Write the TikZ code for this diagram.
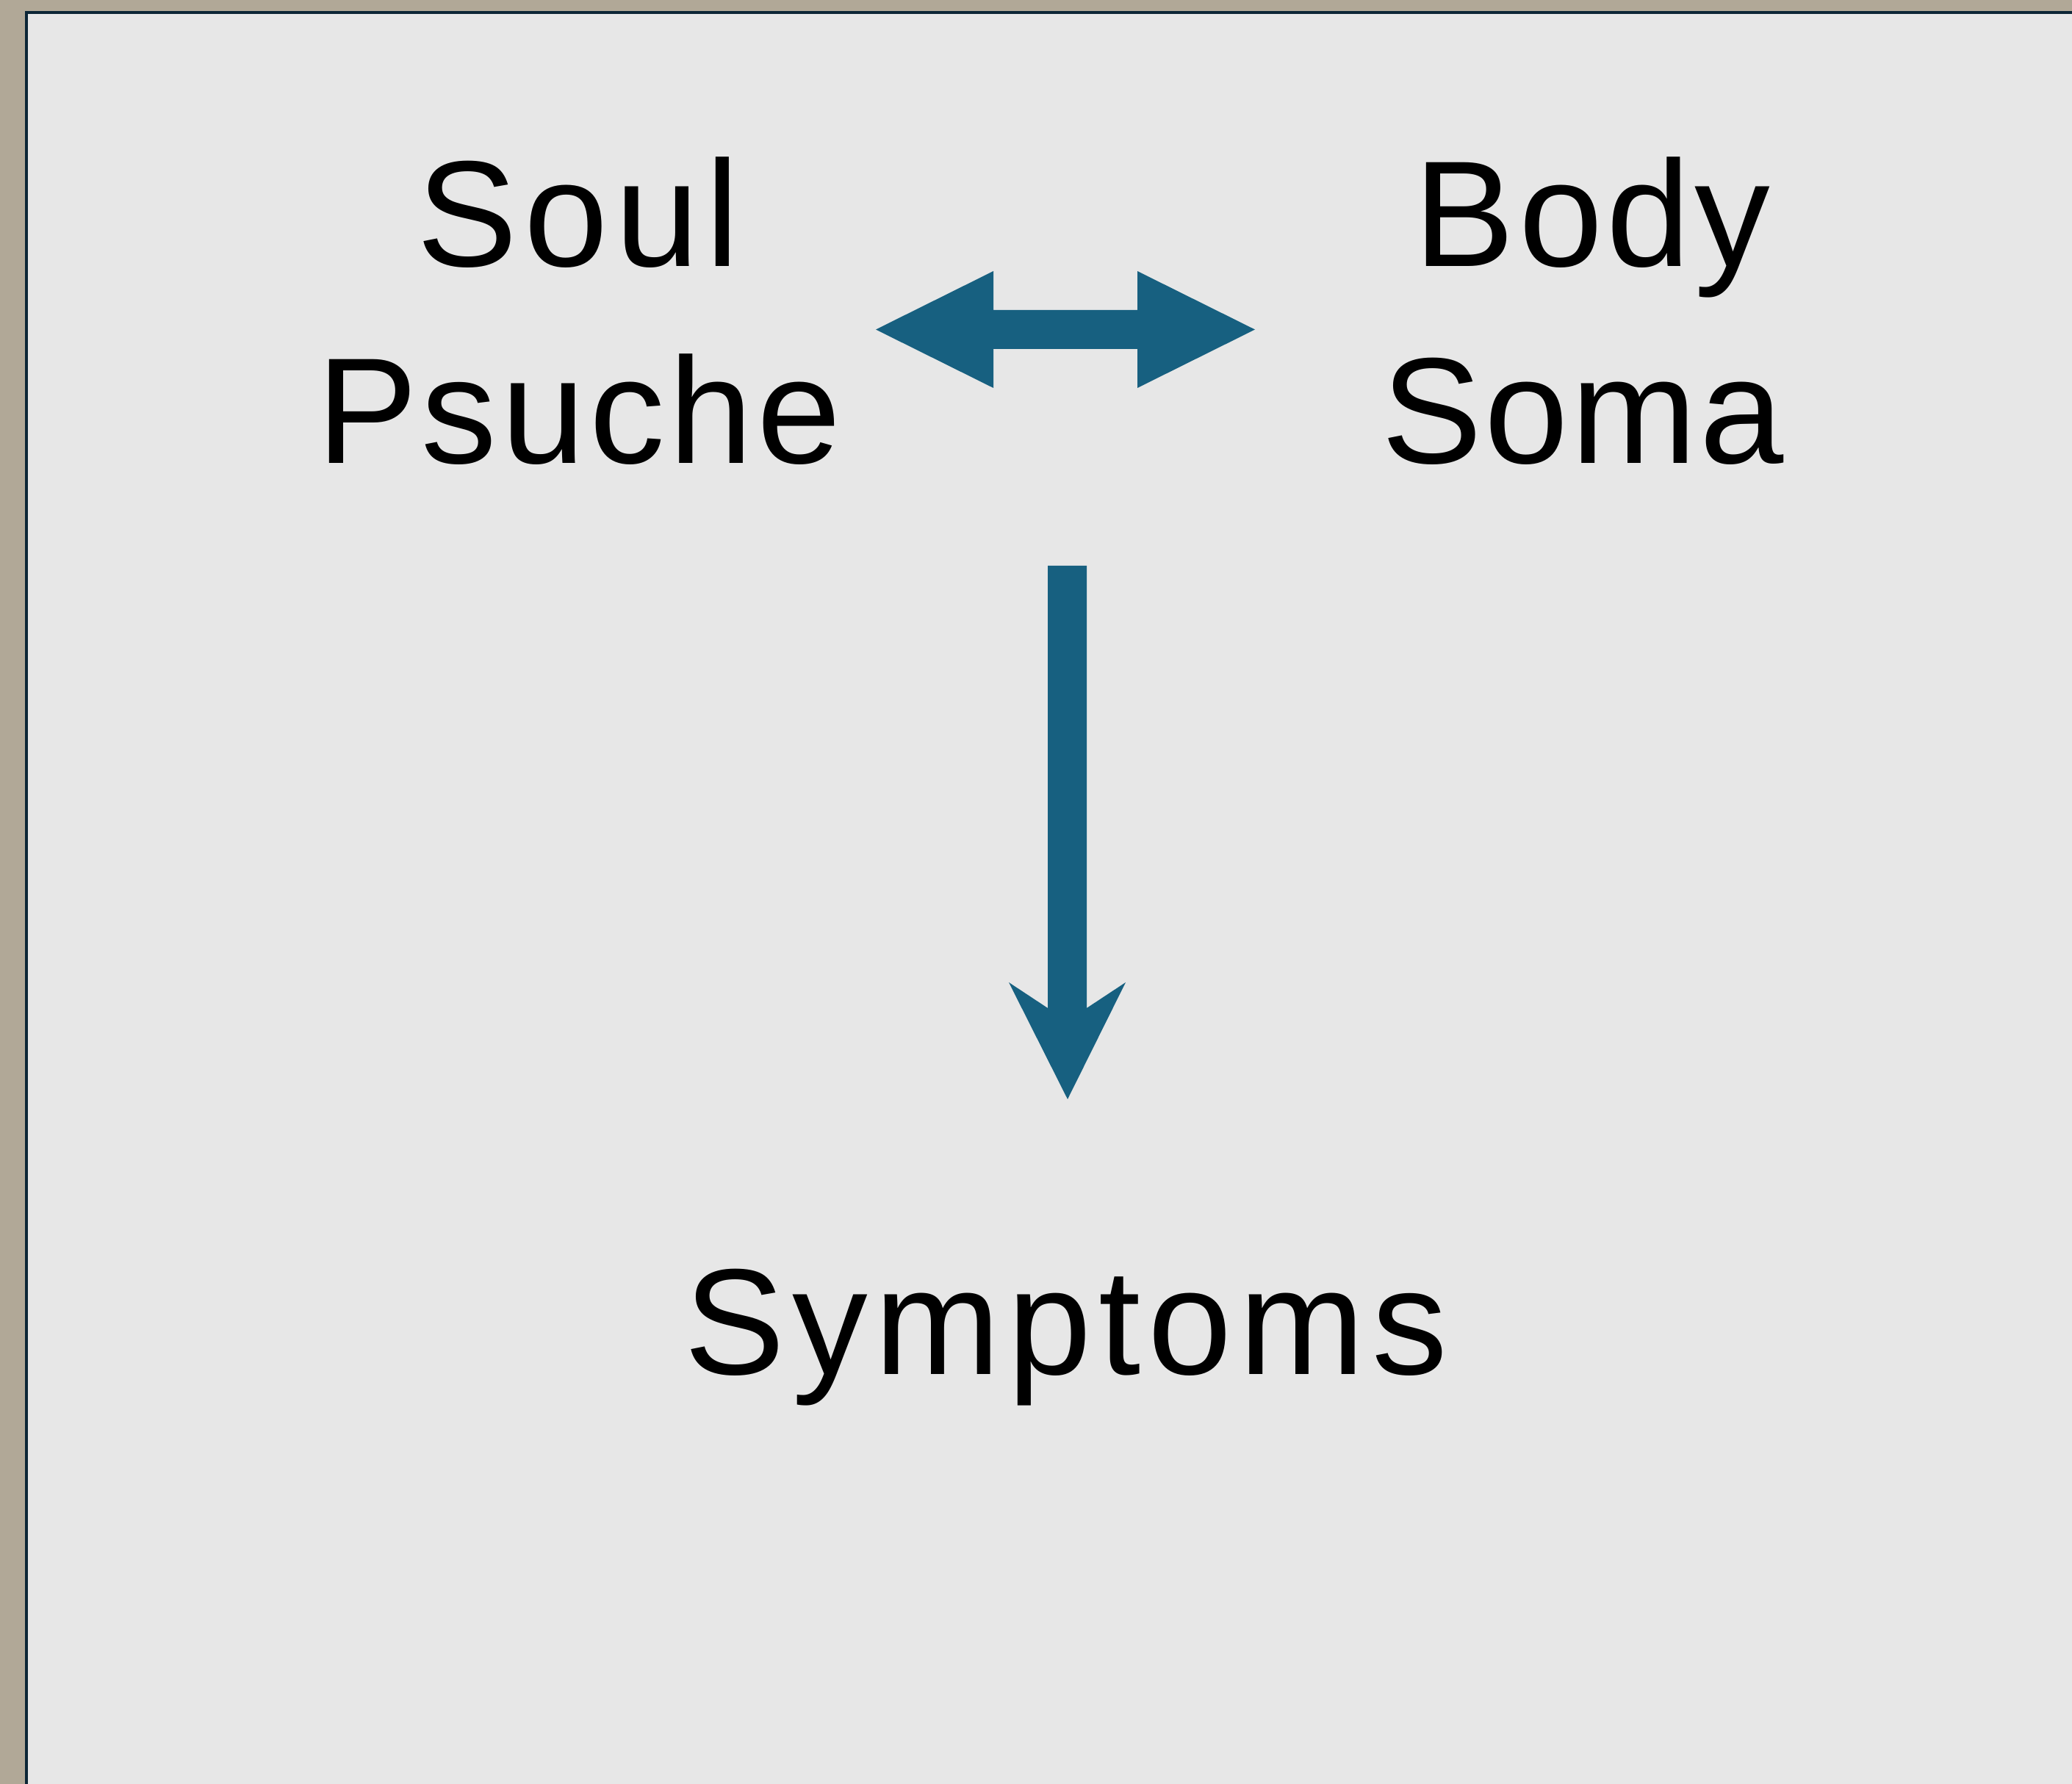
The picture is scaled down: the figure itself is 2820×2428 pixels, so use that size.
\documentclass[tikz,border=0pt]{standalone}
\usepackage{fontspec}
\setmainfont{Liberation Sans}
\definecolor{outerbg}{RGB}{177,168,151}
\definecolor{panelbg}{RGB}{231,231,231}
\definecolor{panelline}{RGB}{12,38,54}
\definecolor{arrowblue}{RGB}{23,96,128}
\begin{document}
\begin{tikzpicture}[x=0.01cm,y=-0.01cm,
  lbl/.style={anchor=base,inner sep=0pt,text=black,font=\fontsize{58.4}{70}\selectfont\addfontfeature{LetterSpace=#1}},
  blockarrow/.style={fill=arrowblue,draw=none}]
\useasboundingbox (0,0) rectangle (2820,2428);
\fill[outerbg] (0,0) rectangle (2820,2428);
\filldraw[fill=panelbg,draw=panelline,line width=0.04cm] (36,17) rectangle (2860,2470);
% texts
\node[lbl=4.4] (soul) at (787,363) {Soul};
\node[lbl=2.8] (psuche) at (788,631) {Psuche};
\node[lbl=2.6] (body) at (2167,363) {Body};
\node[lbl=1.75] (soma) at (2154,631) {Soma};
\node[lbl=4.8] (symptoms) at (1451,1870) {Symptoms};
% double arrow
\fill[blockarrow] (1192,448.5) -- (1352,369) -- (1352,422) -- (1548,422) -- (1548,369)
  -- (1708,448.5) -- (1548,528) -- (1548,475) -- (1352,475) -- (1352,528) -- cycle;
% down arrow
\fill[blockarrow] (1426,770) -- (1479,770) -- (1479,1372) -- (1532,1337) -- (1453,1496)
  -- (1373,1337) -- (1426,1372) -- cycle;
\end{tikzpicture}
\end{document}
